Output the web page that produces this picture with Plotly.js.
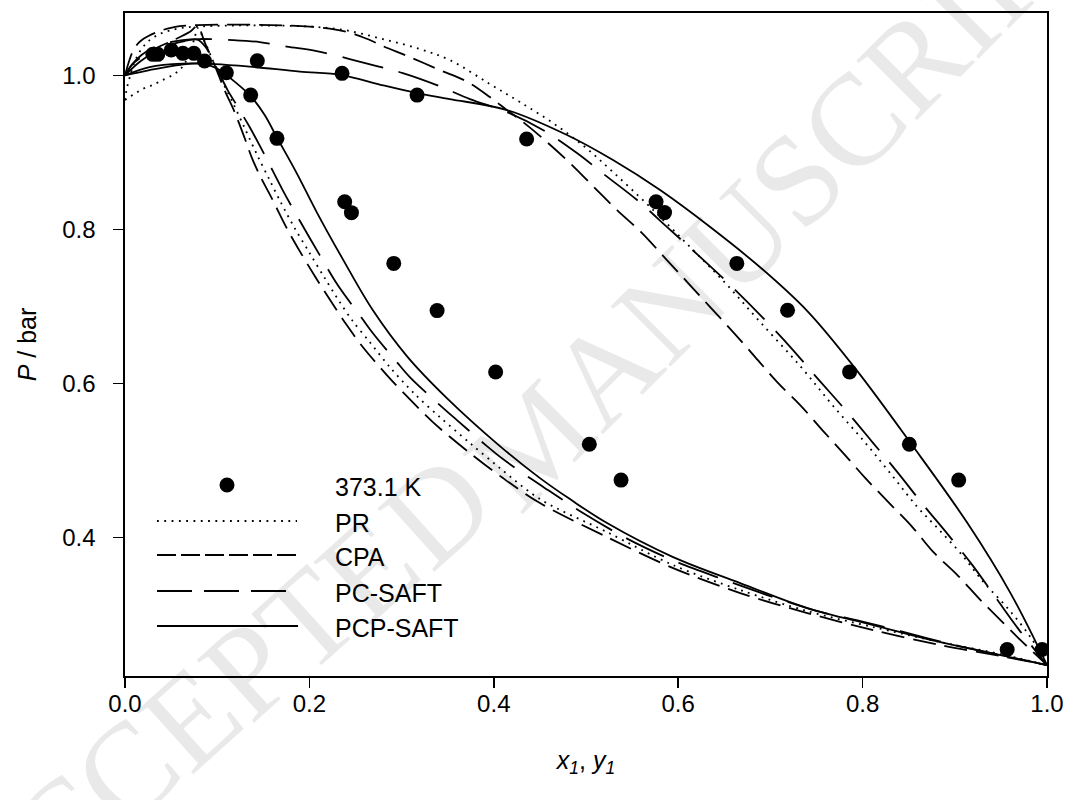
<!DOCTYPE html>
<html>
<head>
<meta charset="utf-8">
<script src="https://cdn.plot.ly/plotly-3.0.1.min.js"></script>
<style>
html,body{margin:0;padding:0;background:#ffffff;}
#chart{width:1072px;height:800px;}
</style>
</head>
<body>
<div id="chart"></div>
<script>
// ---------- Experimental VLE data, 373.1 K ----------
const x1Exp = [0.0302, 0.0502, 0.0628, 0.1435, 0.2354, 0.3168, 0.4356, 0.5760, 0.5852, 0.6636, 0.7186, 0.7859, 0.8507, 0.9042, 0.9948];
const pLiqExp = [1.0273, 1.0329, 1.0286, 1.0190, 1.0026, 0.9744, 0.9173, 0.8358, 0.8218, 0.7558, 0.6949, 0.6149, 0.5209, 0.4744, 0.2545];
const y1Exp = [0.0356, 0.0747, 0.0863, 0.1099, 0.1363, 0.1648, 0.2383, 0.2456, 0.2915, 0.3385, 0.4020, 0.5036, 0.5380, 0.9568];
const pVapExp = [1.0273, 1.0286, 1.0186, 1.0034, 0.9744, 0.9182, 0.8358, 0.8217, 0.7558, 0.6945, 0.6147, 0.5209, 0.4744, 0.2545];

// ---------- PR ----------
const prBubX = [0, 0.0016, 0.0049, 0.0092, 0.0157, 0.0244, 0.0353, 0.0483, 0.0646, 0.0787, 0.1134, 0.1569, 0.2003, 0.2383, 0.2796, 0.3198, 0.3523, 0.3958, 0.4284, 0.4642, 0.4989, 0.5293, 0.5695, 0.6130, 0.6531, 0.6889, 0.7323, 0.7682, 0.8041, 0.8334, 0.8594, 0.8812, 0.9061, 0.9311, 0.9572, 0.9821, 1.0];
const prBubP = [0.9679, 0.9809, 0.9965, 1.0134, 1.0303, 1.0433, 1.0523, 1.0582, 1.0621, 1.0634, 1.0647, 1.0647, 1.0634, 1.0588, 1.0472, 1.0342, 1.0199, 0.9887, 0.9653, 0.9381, 0.9069, 0.8744, 0.8290, 0.7770, 0.7277, 0.6796, 0.6225, 0.5705, 0.5212, 0.4783, 0.4394, 0.4121, 0.3796, 0.3420, 0.3082, 0.2705, 0.2342];
const prDewX = [0, 0.0190, 0.0299, 0.0407, 0.0505, 0.0592, 0.0657, 0.0711, 0.0755, 0.0787, 0.0863, 0.0950, 0.1048, 0.1167, 0.1298, 0.1439, 0.1569, 0.1688, 0.1840, 0.2003, 0.2166, 0.2329, 0.2470, 0.2655, 0.2872, 0.3143, 0.3415, 0.3741, 0.4066, 0.4501, 0.5228, 0.5945, 0.6672, 0.7400, 0.8116, 0.8844, 0.9495, 1.0];
const prDewP = [0.9679, 0.9822, 0.9874, 0.9939, 0.9997, 1.0069, 1.0173, 1.0329, 1.0484, 1.0614, 1.0446, 1.0199, 0.9939, 0.9653, 0.9316, 0.8952, 0.8640, 0.8355, 0.8017, 0.7692, 0.7368, 0.7056, 0.6809, 0.6536, 0.6212, 0.5861, 0.5562, 0.5225, 0.4900, 0.4497, 0.4069, 0.3640, 0.3316, 0.3043, 0.2835, 0.2640, 0.2485, 0.2342];

// ---------- CPA ----------
const cpaBubX = [0, 0.0038, 0.0081, 0.0136, 0.0190, 0.0244, 0.0320, 0.0407, 0.0483, 0.0592, 0.0787, 0.1134, 0.1569, 0.2003, 0.2405, 0.2655, 0.2796, 0.3089, 0.3415, 0.3697, 0.3958, 0.4143, 0.4317, 0.4577, 0.4826, 0.5076, 0.5337, 0.5608, 0.5858, 0.6108, 0.6347, 0.6596, 0.6835, 0.7074, 0.7323, 0.7563, 0.7790, 0.8030, 0.8279, 0.8540, 0.8768, 0.9028, 0.9279, 0.9528, 0.9713, 1.0];
const cpaBubP = [1.0, 1.0160, 1.0303, 1.0407, 1.0465, 1.0504, 1.0549, 1.0588, 1.0614, 1.0640, 1.0653, 1.0660, 1.0653, 1.0634, 1.0566, 1.0459, 1.0381, 1.0238, 1.0069, 0.9926, 0.9718, 0.9549, 0.9394, 0.9134, 0.8861, 0.8562, 0.8251, 0.7952, 0.7627, 0.7303, 0.6991, 0.6666, 0.6342, 0.6017, 0.5718, 0.5394, 0.5095, 0.4770, 0.4459, 0.4134, 0.3809, 0.3511, 0.3186, 0.2887, 0.2666, 0.2342];
const cpaDewX = [0, 0.0081, 0.0299, 0.0505, 0.0700, 0.0787, 0.0863, 0.0972, 0.1080, 0.1189, 0.1298, 0.1373, 0.1460, 0.1591, 0.1754, 0.1895, 0.2058, 0.2253, 0.2405, 0.2579, 0.2840, 0.3013, 0.3339, 0.3741, 0.4099, 0.4501, 0.5228, 0.5945, 0.6672, 0.7400, 0.8116, 0.8844, 0.9495, 1.0];
const cpaDewP = [1.0, 1.0147, 1.0329, 1.0446, 1.0562, 1.0640, 1.0433, 1.0134, 0.9809, 0.9523, 0.9186, 0.8939, 0.8705, 0.8407, 0.8017, 0.7718, 0.7394, 0.7030, 0.6757, 0.6472, 0.6108, 0.5887, 0.5497, 0.5095, 0.4770, 0.4446, 0.4004, 0.3601, 0.3277, 0.3017, 0.2796, 0.2601, 0.2459, 0.2342];

// ---------- PC-SAFT ----------
const pcBubX = [0, 0.0081, 0.0179, 0.0299, 0.0451, 0.0624, 0.0809, 0.1167, 0.1460, 0.1754, 0.2079, 0.2437, 0.2731, 0.3013, 0.3382, 0.3741, 0.4143, 0.4533, 0.4902, 0.5206, 0.5554, 0.5880, 0.6216, 0.6564, 0.6922, 0.7226, 0.7508, 0.7834, 0.8106, 0.8377, 0.8660, 0.8931, 0.9191, 0.9463, 0.9691, 1.0];
const pcBubP = [1.0, 1.0147, 1.0264, 1.0355, 1.0420, 1.0459, 1.0472, 1.0459, 1.0433, 1.0374, 1.0316, 1.0212, 1.0121, 1.0030, 0.9874, 0.9692, 0.9523, 0.9290, 0.8991, 0.8705, 0.8381, 0.8030, 0.7666, 0.7277, 0.6848, 0.6459, 0.6069, 0.5627, 0.5238, 0.4848, 0.4420, 0.4030, 0.3640, 0.3186, 0.2809, 0.2342];
const pcDewX = [0, 0.0157, 0.0320, 0.0483, 0.0646, 0.0787, 0.0874, 0.0950, 0.1026, 0.1113, 0.1211, 0.1352, 0.1515, 0.1710, 0.1916, 0.2112, 0.2307, 0.2568, 0.2687, 0.2948, 0.3089, 0.3415, 0.3600, 0.3925, 0.4099, 0.4425, 0.4588, 0.4967, 0.5456, 0.5988, 0.6477, 0.6998, 0.7508, 0.7976, 0.8410, 0.8952, 0.9495, 1.0];
const pcDewP = [1.0, 1.0173, 1.0303, 1.0394, 1.0446, 1.0465, 1.0368, 1.0199, 1.0017, 0.9809, 0.9614, 0.9329, 0.8965, 0.8510, 0.8069, 0.7666, 0.7277, 0.6848, 0.6654, 0.6277, 0.6082, 0.5718, 0.5523, 0.5186, 0.5017, 0.4744, 0.4614, 0.4316, 0.3978, 0.3679, 0.3459, 0.3238, 0.3043, 0.2913, 0.2783, 0.2614, 0.2472, 0.2342];

// ---------- PCP-SAFT ----------
const pcpBubX = [0, 0.0266, 0.0624, 0.0972, 0.1352, 0.1895, 0.2351, 0.2763, 0.3165, 0.3523, 0.4143, 0.4794, 0.5293, 0.5804, 0.6347, 0.6911, 0.7411, 0.7943, 0.8529, 0.9137, 0.9604, 1.0];
const pcpBubP = [1.0, 1.0108, 1.0153, 1.0147, 1.0114, 1.0049, 1.0004, 0.9881, 0.9770, 0.9692, 0.9549, 0.9225, 0.8900, 0.8510, 0.8030, 0.7485, 0.6926, 0.6160, 0.5212, 0.4186, 0.3277, 0.2342];
const pcpDewX = [0, 0.0266, 0.0537, 0.0787, 0.0939, 0.1048, 0.1156, 0.1363, 0.1515, 0.1645, 0.1862, 0.2079, 0.2362, 0.2687, 0.3057, 0.3491, 0.4066, 0.4501, 0.4826, 0.5228, 0.5945, 0.6672, 0.7400, 0.8116, 0.8844, 0.9495, 1.0];
const pcpDewP = [1.0, 1.0069, 1.0127, 1.0156, 1.0121, 1.0056, 0.9952, 0.9731, 0.9485, 0.9199, 0.8731, 0.8225, 0.7614, 0.6952, 0.6355, 0.5809, 0.5186, 0.4770, 0.4497, 0.4186, 0.3744, 0.3407, 0.3082, 0.2861, 0.2640, 0.2472, 0.2342];

// ---------- axis ticks / labels ----------
const xTickVals = [0, 0.2, 0.4, 0.6, 0.8, 1.0];
const xTickText = ['0.0', '0.2', '0.4', '0.6', '0.8', '1.0'];
const yTickVals = [0.4, 0.6, 0.8, 1.0];
const yTickText = ['0.4', '0.6', '0.8', '1.0'];
const legendLabels = ['373.1 K', 'PR', 'CPA', 'PC-SAFT', 'PCP-SAFT'];
const watermarkText = 'ACCEPTED MANUSCRIPT';

// ---------- styles ----------
const FONT = 'Liberation Sans, Arial, Helvetica, sans-serif';
const dashPR = '1.8px,5.4px';
const dashCPA = '23px,9px';
const dashPC = '42px,16px';
const LW = 1.8;

function curve(x, y, name, dash, smooth) {
  return {
    type: 'scatter', mode: 'lines', x: x, y: y, name: name,
    showlegend: false, hoverinfo: 'skip',
    line: {color: '#000', width: LW, dash: dash, shape: 'spline', smoothing: smooth}
  };
}

const traces = [
  curve(prBubX, prBubP, 'PR bubble', dashPR, 1.0),
  curve(prDewX, prDewP, 'PR dew', dashPR, 0.9),
  curve(cpaBubX, cpaBubP, 'CPA bubble', dashCPA, 1.0),
  curve(cpaDewX, cpaDewP, 'CPA dew', dashCPA, 0.9),
  curve(pcBubX, pcBubP, 'PC-SAFT bubble', dashPC, 1.0),
  curve(pcDewX, pcDewP, 'PC-SAFT dew', dashPC, 0.9),
  curve(pcpBubX, pcpBubP, 'PCP-SAFT bubble', 'solid', 1.0),
  curve(pcpDewX, pcpDewP, 'PCP-SAFT dew', 'solid', 1.0),
  {
    type: 'scatter', mode: 'markers', name: legendLabels[0],
    x: x1Exp.concat(y1Exp), y: pLiqExp.concat(pVapExp),
    showlegend: false, hoverinfo: 'skip',
    marker: {symbol: 'circle', size: 15, color: '#000', line: {width: 0}}
  }
];

// plot-area geometry (pixels) used for the hand-drawn legend and watermark
const W = 1072, H = 800, ML = 125, MR = 25, MT = 13, MB = 124;
const PW = W - ML - MR, PH = H - MT - MB;
function px(xPix) { return (xPix - ML) / PW; }
function py(yPix) { return (H - MB - yPix) / PH; }

// legend layout (pixel positions)
const legX0 = 157, legTextX = 333;
const legRowY = [485, 521, 555, 591, 626];
const legLineEnd = [0, 297, 297, 286, 298];
const legDash = ['', '1.8px,5.5px', '19px,5px', '35px,12px', 'solid'];

const shapes = [];
shapes.push({type: 'circle', xref: 'paper', yref: 'paper',
  x0: px(227 - 7.5), x1: px(227 + 7.5), y0: py(legRowY[0] + 7.5), y1: py(legRowY[0] - 7.5),
  fillcolor: '#000', line: {width: 0}});
for (let i = 1; i < 5; i++) {
  shapes.push({type: 'line', xref: 'paper', yref: 'paper',
    x0: px(legX0), x1: px(legLineEnd[i]), y0: py(legRowY[i]), y1: py(legRowY[i]),
    line: {color: '#000', width: LW, dash: legDash[i]}});
}

const annotations = [];
// watermark letters (pixel centres along the arc); letters fully outside the picture are skipped
const wmPos = [null,[62,827],[126,771],[190,718],[248,669],[306,620],[367,569],[437,510],null,
  [530,445],[604,371],[670,305],[737,238],[796,179],[852,123],[913,62],[959,16],[1000,-25],null];
for (let i = 0; i < watermarkText.length; i++) {
  const p = wmPos[i];
  if (!p) continue;
  annotations.push({xref: 'paper', yref: 'paper', x: px(p[0]), y: py(p[1]),
    text: watermarkText[i], showarrow: false, xanchor: 'center', yanchor: 'middle',
    textangle: i < 8 ? -42 : -45,
    font: {family: 'Liberation Serif, Times New Roman, serif', size: 130, color: 'rgba(0,0,0,0.085)'}});
}
// legend texts
for (let i = 0; i < 5; i++) {
  annotations.push({xref: 'paper', yref: 'paper', x: px(legTextX), y: py(legRowY[i] + 2),
    text: legendLabels[i], showarrow: false, xanchor: 'left', yanchor: 'middle',
    font: {family: FONT, size: 25, color: '#000'}});
}

const axisCommon = {
  showgrid: false, zeroline: false, showline: true, linecolor: '#000', linewidth: 1.7,
  mirror: true, ticks: 'outside', ticklen: 10, tickwidth: 1.7, tickcolor: '#000',
  tickfont: {family: FONT, size: 24, color: '#000'}
};

const layout = {
  width: W, height: H,
  margin: {l: ML, r: MR, t: MT, b: MB, pad: 0},
  paper_bgcolor: '#ffffff', plot_bgcolor: '#ffffff',
  showlegend: false,
  font: {family: FONT, color: '#000'},
  xaxis: Object.assign({}, axisCommon, {
    range: [0, 1], tickvals: xTickVals, ticktext: xTickText, ticklabelstandoff: -5,
    title: {text: '<i>x</i><sub><i>1</i></sub>, <i>y</i><sub><i>1</i></sub>', font: {family: FONT, size: 25, color: '#000'}, standoff: 36}
  }),
  yaxis: Object.assign({}, axisCommon, {
    range: [0.22, 1.081], tickvals: yTickVals, ticktext: yTickText, ticklabelstandoff: 13,
    title: {text: '<i>P</i> / bar', font: {family: FONT, size: 25, color: '#000'}, standoff: 18}
  }),
  shapes: shapes,
  annotations: annotations
};

Plotly.newPlot('chart', traces, layout, {staticPlot: true, displayModeBar: false});
</script>
</body>
</html>
